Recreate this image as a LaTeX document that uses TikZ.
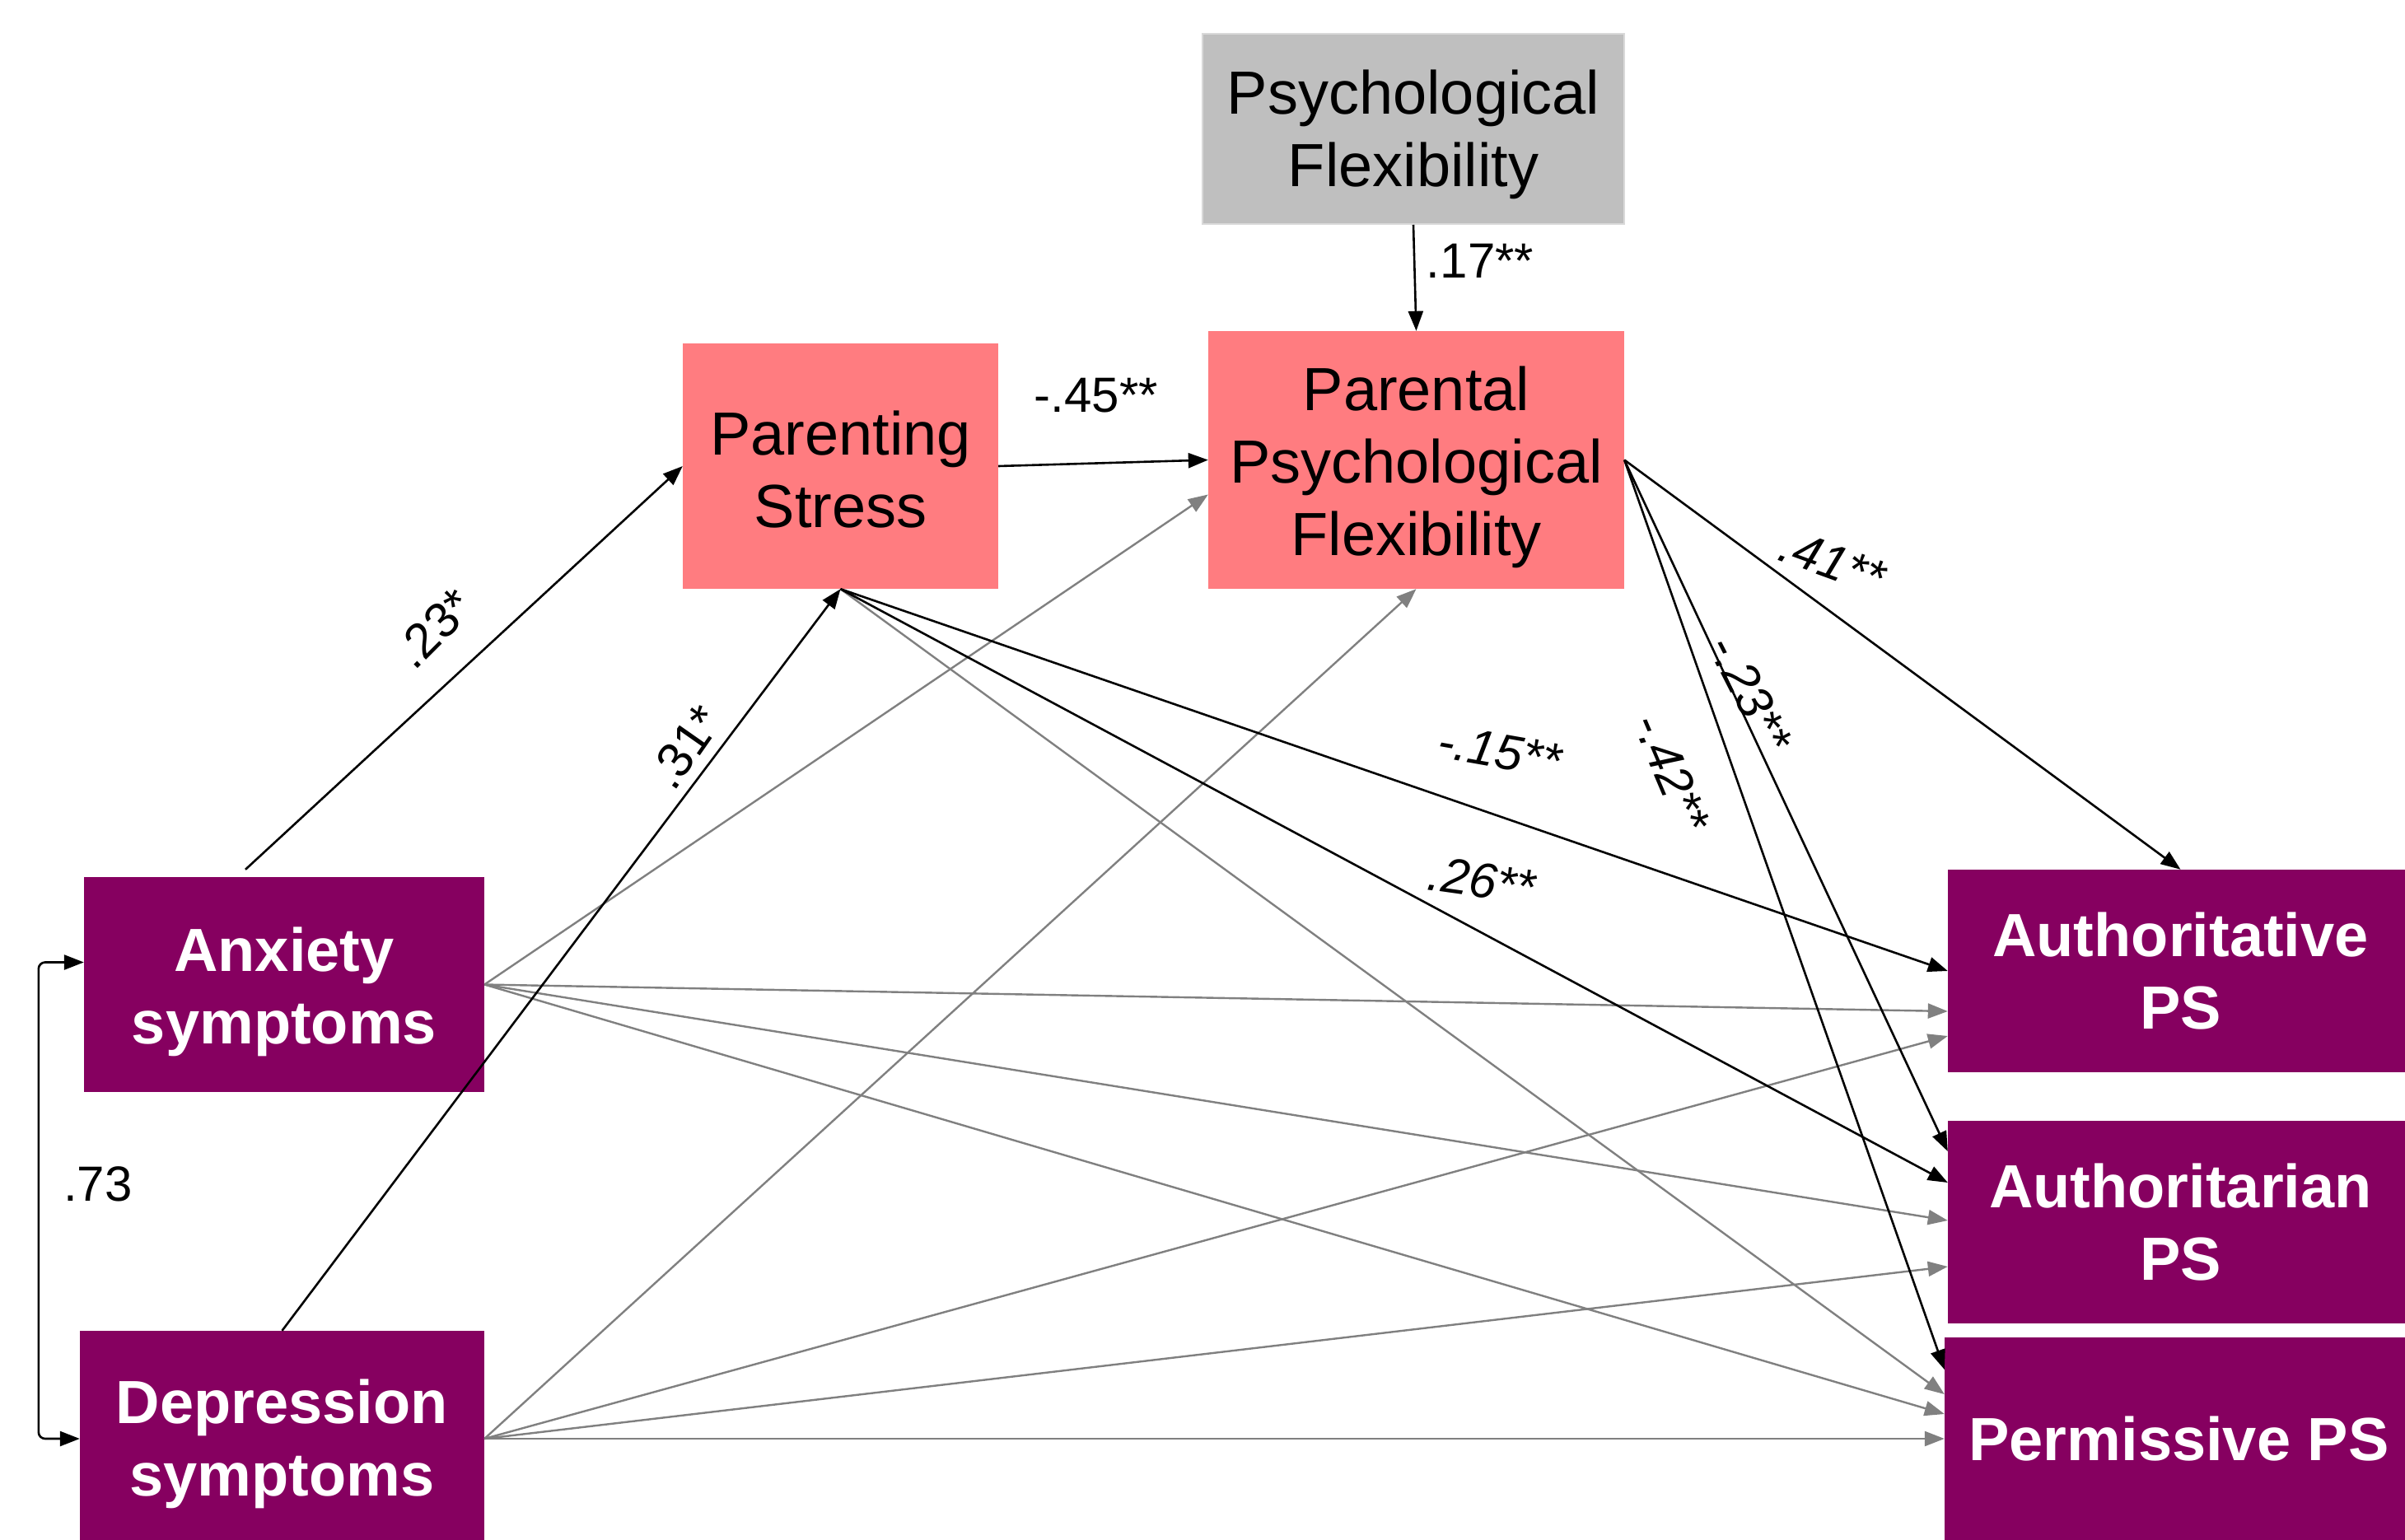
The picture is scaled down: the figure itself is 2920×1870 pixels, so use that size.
\documentclass[tikz,border=0pt]{standalone}
\usepackage{fontspec}
\setmainfont{Liberation Sans}
\usetikzlibrary{arrows.meta}
\definecolor{purp}{HTML}{860060}
\definecolor{pinkc}{HTML}{FF7C80}
\definecolor{greyc}{HTML}{BFBFBF}
\definecolor{greyb}{HTML}{D9D9D9}
\definecolor{linegrey}{HTML}{808080}
\newcommand{\topstrut}[1]{\rule{0pt}{#1pt}}
\tikzset{
  boxtext/.style={font=\fontsize{74}{88}\selectfont, align=center, inner sep=0pt},
  pinkbox/.style={boxtext, fill=pinkc, text=black},
  greybox/.style={boxtext, fill=greyc, draw=greyb, line width=2pt, text=black},
  purpbox/.style={boxtext, fill=purp, text=white, font=\fontsize{74}{88}\selectfont\bfseries},
  blk/.style={draw=black, line width=2.6pt, -{Triangle[length=24pt, width=18pt]}},
  gry/.style={draw=linegrey, line width=2.4pt, -{Triangle[length=24pt, width=18pt]}},
  lab/.style={font=\fontsize{60}{72}\selectfont, inner sep=0pt},
  ilab/.style={font=\fontsize{60}{72}\selectfont\itshape, inner sep=0pt},
}
\begin{document}
\begin{tikzpicture}[x=1pt, y=-1pt]
\useasboundingbox (0,0) rectangle (2920,1870);
\clip (0,0) rectangle (2920,1870);
\fill[white] (0,0) rectangle (2920,1870);

% nodes
\node[greybox, minimum width=512pt, minimum height=231pt] (gray) at (1716,156.5) {\topstrut{67}Psychological\\Flexibility};
\node[pinkbox, minimum width=505pt, minimum height=313pt] (ppf) at (1719.5,558.5) {\topstrut{71}Parental\\Psychological\\Flexibility};
\node[pinkbox, minimum width=383pt, minimum height=298pt] (ps) at (1020.5,566) {\topstrut{61}Parenting\\Stress};
\node[purpbox, minimum width=486pt, minimum height=261pt] (anx) at (345,1195.5) {\topstrut{71}Anxiety\\symptoms};
\node[purpbox, minimum width=491pt, minimum height=262pt] (dep) at (342.5,1747) {\topstrut{67}Depression\\symptoms};
\node[purpbox, minimum width=565pt, minimum height=246pt] (auth) at (2647.5,1179) {Authoritative\\PS};
\node[purpbox, minimum width=565pt, minimum height=246pt] (autn) at (2647.5,1484) {Authoritarian\\PS};
\node[purpbox, minimum width=569pt, minimum height=246pt] (perm) at (2645.5,1747) {Permissive PS};

% grey paths
\draw[gry] (ps.south) -- ([yshift=54pt]perm.west);
\draw[gry] (anx.east) -- ([yshift=-42pt]ppf.west);
\draw[gry] (dep.east) -- (ppf.south);
\draw[gry] (anx.east) -- ([yshift=-49pt]auth.west);
\draw[gry] (anx.east) -- ([yshift=2pt]autn.west);
\draw[gry] (anx.east) -- ([yshift=30pt]perm.west);
\draw[gry] (dep.east) -- ([yshift=-79pt]auth.west);
\draw[gry] (dep.east) -- ([yshift=-54pt]autn.west);
\draw[gry] (dep.east) -- (perm.west);

% black paths
\draw[blk] ([xshift=-47pt, yshift=9pt]anx.north) -- (ps.west);
\draw[blk] (dep.north) -- (ps.south);
\draw[blk] (ps.east) -- (ppf.west);
\draw[blk] (gray.south) -- (ppf.north);
\draw[blk] (ppf.east) -- (auth.north);
\draw[blk] (ppf.east) -- ([yshift=86pt]autn.west);
\draw[blk] (ppf.east) -- ([yshift=84pt]perm.west);
\draw[blk] (ps.south) -- (auth.west);
\draw[blk] (ps.south) -- ([yshift=48pt]autn.west);

% correlation
\draw[line width=2.6pt, {Triangle[length=24pt, width=18pt]}-{Triangle[length=24pt, width=18pt]}, rounded corners=8pt]
  ([yshift=27pt]anx.west) -- ++(-55,0) |- (dep.west);

% labels
\node[lab] (l17) at (1797,317) {.17**};
\node[lab] (l45) at (1331,480) {-.45**};
\node[lab, rotate=45] (l23) at (527,763) {.23*};
\node[lab, rotate=55] (l31) at (832,907) {.31*};
\node[ilab, rotate=-20] (l41) at (2225,682) {.41**};
\node[ilab, rotate=-63] (lm23) at (2125,842) {-.23**};
\node[ilab, rotate=-67] (lm42) at (2030,938) {-.42**};
\node[ilab, rotate=-10] (lm15) at (1821,912) {-.15**};
\node[ilab, rotate=-8] (l26) at (1799,1069) {.26**};
\node[lab] (l73) at (119,1438) {.73};
\end{tikzpicture}
\end{document}
